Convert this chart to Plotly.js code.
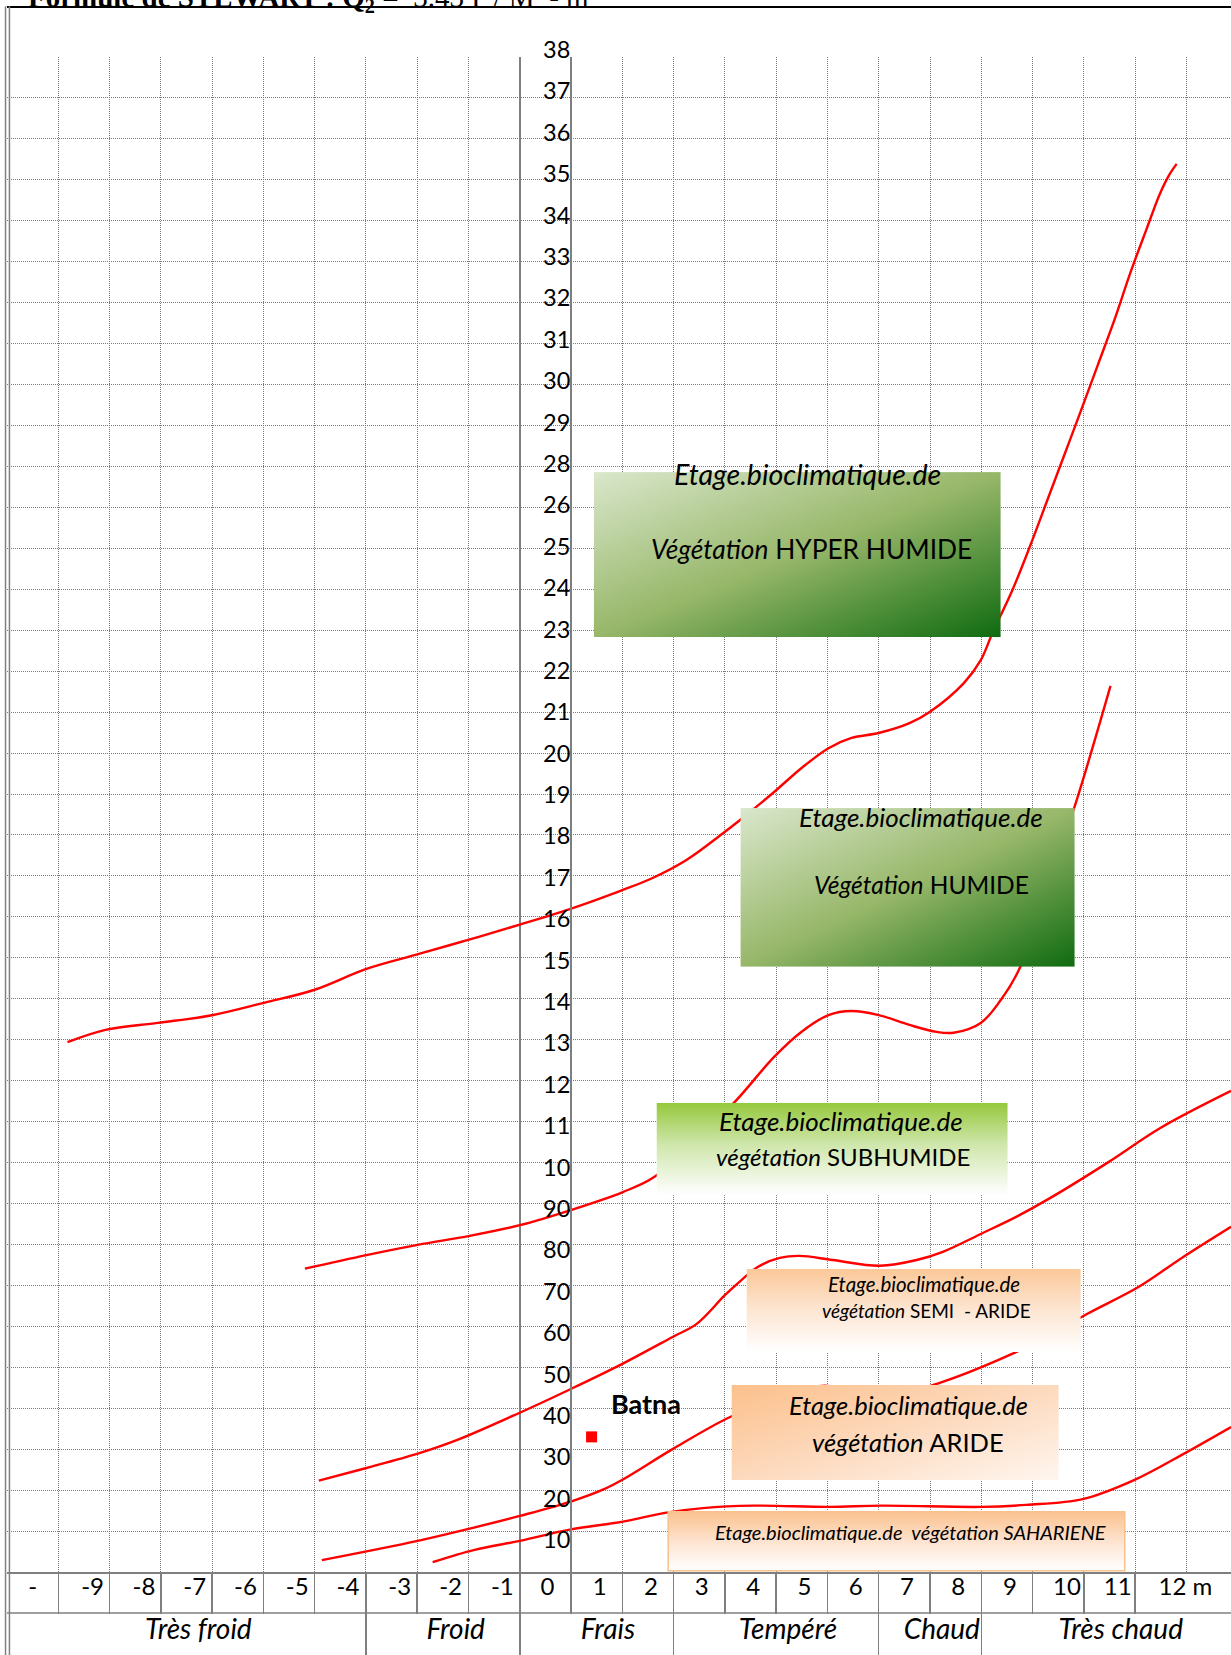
<!DOCTYPE html>
<html><head><meta charset="utf-8">
<script src="https://cdn.plot.ly/plotly-3.0.1.min.js"></script>
<style>html,body{margin:0;padding:0;background:#fff;}#chart{width:1231px;height:1655px;}</style>
</head><body><div id="chart"></div>
<script>
// ---------------- data ----------------
const yTickLabels = ['10','20','30','40','50','60','70','80','90','10','11','12','13','14','15','16','17','18','19','20','21','22','23','24','25','26','28','29','30','31','32','33','34','35','36','37','38'];
const xTickLabels = ['-','-9','-8','-7','-6','-5','-4','-3','-2','-1','0','1','2','3','4','5','6','7','8','9','10','11','12 m'];
const zoneLabels = ['Très froid','Froid','Frais','Tempéré','Chaud','Très chaud'];

const curveA_x = [-8.82,-8.08,-7.06,-6.03,-4.99,-4.00,-2.99,-1.95,-0.975,0,0.975,1.95,2.59,3.25,3.97,4.37,4.96,5.49,6.02,6.47,7.00,7.60,8.00,8.66,8.99,9.22,9.61,9.95,10.28,10.61,10.94,11.27,11.60,11.91,12.23,12.48,12.66,12.81];
const curveA_y = [12.94,13.24,13.41,13.59,13.90,14.22,14.73,15.10,15.45,15.81,16.19,16.63,16.95,17.39,18.05,18.44,19.05,19.63,20.12,20.37,20.49,20.73,21.01,21.71,22.27,22.94,23.99,25.05,26.15,27.25,28.35,29.47,30.59,31.74,32.82,33.65,34.11,34.39];

const curveB_x = [-4.19,-2.99,-1.99,-0.975,0,0.995,2.01,2.59,3.41,4.23,4.96,5.49,6.02,6.47,7.00,7.60,8.13,8.46,8.99,9.38,9.75,10.28,10.82,11.52];
const curveB_y = [7.41,7.74,7.99,8.21,8.47,8.84,9.28,9.62,10.50,11.53,12.58,13.19,13.60,13.70,13.60,13.36,13.19,13.17,13.41,13.97,14.75,16.73,18.69,21.64];

const curveC_x = [-3.92,-2.99,-1.99,-1.23,0,0.995,2.01,2.98,3.45,4.00,4.35,4.64,5.07,5.46,6.10,7.02,7.74,8.25,9.03,9.69,10.34,11.48,12.50,13.87];
const curveC_y = [2.23,2.54,2.89,3.22,3.89,4.47,5.09,5.74,6.06,6.76,7.16,7.45,7.67,7.72,7.62,7.48,7.62,7.82,8.28,8.68,9.13,10.01,10.85,11.75];

const curveD_x = [-3.86,-1.99,-0.975,0,0.995,1.62,2.01,2.98,4.06,5.07,5.95,7.02,8.19,9.59,10.34,11.06,12.09,12.91,13.87];
const curveD_y = [0.29,0.76,1.06,1.37,1.72,2.01,2.26,3.00,3.76,4.28,4.55,4.25,4.62,5.32,5.79,6.30,6.98,7.67,8.43];

const curveE_x = [-1.70,-0.88,0,0.995,2.01,2.86,3.57,4.54,6.03,7.05,9.01,9.88,10.98,11.99,12.91,13.87];
const curveE_y = [0.24,0.54,0.76,1.04,1.23,1.45,1.56,1.62,1.59,1.62,1.59,1.64,1.78,2.25,2.86,3.54];

const stationName = ['Batna'];
const stationX = [1.40];
const stationY = [3.30];

const boxTexts = [
  ['<i>Etage.bioclimatique.de</i>', '<i>Végétation</i> HYPER HUMIDE'],
  ['<i>Etage.bioclimatique.de</i>', '<i>Végétation</i> HUMIDE'],
  ['<i>Etage.bioclimatique.de</i>', '<i>végétation</i> SUBHUMIDE'],
  ['<i>Etage.bioclimatique.de</i>', '<i>végétation</i> SEMI\u00a0\u00a0- ARIDE'],
  ['<i>Etage.bioclimatique.de</i>', '<i>végétation</i> ARIDE'],
  ['<i>Etage.bioclimatique.de\u00a0 végétation SAHARIENE</i>']
];

// ---------------- layout / style ----------------
const XR = [-10, 13.87], YR = [0, 37];
const gridX = []; for (let k = -9; k <= 13; k++) gridX.push(k);
const gridY = []; for (let k = 1; k <= 36; k++) gridY.push(k);
const sepX = []; for (let k = -9; k <= 12; k++) sepX.push(k);
const zoneSep = [-3, 0, 3, 7, 9];
const xLabelPos = [-9.5,-8.33,-7.33,-6.34,-5.35,-4.34,-3.35,-2.34,-1.35,-0.34,0.54,1.56,2.56,3.55,4.55,5.55,6.55,7.55,8.55,9.56,10.67,11.66,12.98];
const zonePos = [-6.27,-1.25,1.72,5.23,8.23,11.72];
const yLabelPos = yTickLabels.map((_, i) => 0.38 + 1.011 * i);

const boxGeom = [
  {x0:1.443, x1:9.380, y0:22.833, y1:26.862, fs:[28.5,26.3], tx:[5.62,5.69], ty:[26.81,24.98], g:'green'},
  {x0:4.302, x1:10.823, y0:14.781, y1:18.657, fs:[26,24.5], tx:[7.82,7.84], ty:[18.44,16.78], g:'green'},
  {x0:2.666, x1:9.516, y0:9.206, y1:11.460, fs:[26,24], tx:[6.27,6.30], ty:[11.02,10.14], g:'lime'},
  {x0:4.421, x1:10.940, y0:5.372, y1:7.399, fs:[20.5,19], tx:[7.88,7.94], ty:[7.03,6.38], g:'peachV'},
  {x0:4.128, x1:10.511, y0:2.247, y1:4.567, fs:[25.5,25.5], tx:[7.59,7.58], ty:[4.08,3.18], g:'peachD'},
  {x0:2.894, x1:11.798, y0:0.03, y1:1.473, fs:[20], tx:[7.62], ty:[0.98], g:'peachB'}
];
const grads = {
  green: {dir:[0,0,1,1], stops:[[0,'#dae7cc'],[0.5,'#97b769'],[1,'#0f6b10']]},
  lime: {dir:[0,0,0,1], stops:[[0,'#94c83b'],[0.45,'#cfe6ab'],[1,'#ffffff']]},
  peachV: {dir:[0,0,0,1], stops:[[0,'#fbc899'],[0.5,'#fde6d3'],[1,'#ffffff']]},
  peachD: {dir:[0,0,1,1], stops:[[0,'#fcc08b'],[0.55,'#fddcc2'],[1,'#fff6ef']]},
  peachB: {dir:[0,0,0,1], stops:[[0,'#fbc28e'],[0.55,'#fde6d5'],[1,'#ffffff']]}
};
function gradImg(g) {
  const st = g.stops.map(s => `<stop offset="${s[0]}" stop-color="${s[1]}"/>`).join('');
  const svg = `<svg xmlns="http://www.w3.org/2000/svg" width="100" height="100" viewBox="0 0 100 100" preserveAspectRatio="none"><defs><linearGradient id="g" x1="${g.dir[0]}" y1="${g.dir[1]}" x2="${g.dir[2]}" y2="${g.dir[3]}">${st}</linearGradient></defs><rect x="0" y="0" width="100" height="100" fill="url(#g)"/></svg>`;
  return 'data:image/svg+xml;charset=utf-8,' + encodeURIComponent(svg);
}

const FONT = 'Lato, Carlito, "Open Sans", sans-serif';
const GRID = '#7a7a7a', AXC = '#7f7f7f';
const lineStyle = {color:'#ff0000', width:2.4, shape:'spline', smoothing:1.0};

const traces = [
  {x:curveA_x, y:curveA_y, mode:'lines', line:lineStyle, hoverinfo:'skip'},
  {x:curveB_x, y:curveB_y, mode:'lines', line:lineStyle, hoverinfo:'skip'},
  {x:curveC_x, y:curveC_y, mode:'lines', line:lineStyle, hoverinfo:'skip'},
  {x:curveD_x, y:curveD_y, mode:'lines', line:lineStyle, hoverinfo:'skip'},
  {x:curveE_x, y:curveE_y, mode:'lines', line:lineStyle, hoverinfo:'skip'},
  {x:stationX, y:stationY, mode:'markers', marker:{symbol:'square', size:11, color:'#ff0000'}, hoverinfo:'skip'},
  {x:[null], y:[null], xaxis:'x2', yaxis:'y', hoverinfo:'skip'},
  {x:[null], y:[null], xaxis:'x3', yaxis:'y', hoverinfo:'skip'},
  {x:[null], y:[null], xaxis:'x4', yaxis:'y', hoverinfo:'skip'},
  {x:[null], y:[null], xaxis:'x5', yaxis:'y', hoverinfo:'skip'},
  {x:[null], y:[null], xaxis:'x', yaxis:'y2', hoverinfo:'skip'}
];

const baseX = {range:XR, fixedrange:true, showgrid:false, zeroline:false, showline:false, ticks:'', showticklabels:false, overlaying:'x', anchor:'y', side:'bottom', tickmode:'array'};

const images = boxGeom.map(b => ({
  source: gradImg(grads[b.g]), xref:'x', yref:'y', x:b.x0, y:b.y1,
  sizex:b.x1 - b.x0, sizey:b.y1 - b.y0, sizing:'stretch', xanchor:'left', yanchor:'top', layer:'above'
}));

const annotations = [];
boxGeom.forEach((b, i) => {
  boxTexts[i].forEach((t, j) => {
    annotations.push({xref:'x', yref:'y', x:b.tx[j], y:b.ty[j], text:t, showarrow:false,
      xanchor:'center', yanchor:'middle', font:{family:FONT, size:b.fs[j], color:'#000'}});
  });
});
annotations.push({xref:'x', yref:'y', x:stationX[0], y:stationY[0], xshift:54, yshift:33, text:'<b>' + stationName[0] + '</b>',
  showarrow:false, xanchor:'center', yanchor:'middle', font:{family:FONT, size:27, color:'#000'}});
annotations.push({xref:'paper', yref:'paper', x:0.0155, y:1.0385, xanchor:'left', yanchor:'middle', showarrow:false,
  text:'<b>Formule de STEWART : Q<sub>2</sub> =</b>\u00a0 3.43 P / M\u00a0 - m', font:{family:'"Liberation Serif", serif', size:29, color:'#000'}});

const shapes = [
  {type:'line', xref:'paper', yref:'paper', x0:0, x1:1, y0:1.0330, y1:1.0330, line:{color:'#000', width:2}},
  {type:'line', xref:'paper', yref:'paper', x0:-0.0012, x1:-0.0012, y0:1.0335, y1:-0.06, line:{color:'#808080', width:1.5}},
  {type:'line', xref:'paper', yref:'paper', x0:0.0020, x1:0.0020, y0:1.0335, y1:-0.06, line:{color:'#808080', width:1.5}},
  {type:'line', xref:'paper', yref:'paper', x0:0, x1:1, y0:-0.02706, y1:-0.02706, line:{color:AXC, width:1.5}},
  {type:'rect', xref:'x', yref:'y', x0:boxGeom[5].x0, x1:boxGeom[5].x1, y0:boxGeom[5].y0, y1:boxGeom[5].y1, line:{color:'#f8c08c', width:1.5}, layer:'above'}
];

const layout = {
  width:1231, height:1655, margin:{l:7, r:0, t:57, b:83, pad:0},
  paper_bgcolor:'#fff', plot_bgcolor:'#fff', showlegend:false,
  xaxis:{range:XR, fixedrange:true, tickmode:'array', tickvals:gridX, showgrid:true, gridcolor:GRID, griddash:'1px,1px', gridwidth:1,
    ticks:'', showticklabels:false, zeroline:true, zerolinecolor:AXC, zerolinewidth:2, showline:true, linecolor:AXC, linewidth:2},
  yaxis:{range:YR, fixedrange:true, tickmode:'array', tickvals:gridY, showgrid:true, gridcolor:GRID, griddash:'1px,1px', gridwidth:1,
    ticks:'', showticklabels:false, zeroline:false, showline:false},
  xaxis2:Object.assign({}, baseX, {tickvals:sepX, ticks:'outside', ticklen:41, tickwidth:1.5, tickcolor:AXC}),
  xaxis3:Object.assign({}, baseX, {tickvals:zoneSep, ticks:'outside', ticklen:83, tickwidth:1.5, tickcolor:AXC}),
  xaxis4:Object.assign({}, baseX, {tickvals:xLabelPos, ticktext:xTickLabels, showticklabels:true, ticklabelstandoff:-2,
    tickfont:{family:FONT, size:24, color:'#000'}}),
  xaxis5:Object.assign({}, baseX, {tickvals:zonePos, ticktext:zoneLabels.map(s => '<i>' + s + '</i>'), showticklabels:true, ticklabelstandoff:38,
    tickfont:{family:FONT, size:28, color:'#000'}}),
  yaxis2:{range:YR, fixedrange:true, overlaying:'y', anchor:'free', position:0.46078, side:'left', tickmode:'array',
    tickvals:yLabelPos, ticktext:yTickLabels, ticks:'', ticklabelposition:'outside top', ticklabelstandoff:-5,
    showgrid:false, zeroline:false, showline:true, linecolor:AXC, linewidth:2, tickfont:{family:FONT, size:23.5, color:'#000'}},
  images:images, annotations:annotations, shapes:shapes
};

Plotly.newPlot('chart', traces, layout, {staticPlot:true, displayModeBar:false});
</script>
</body></html>
